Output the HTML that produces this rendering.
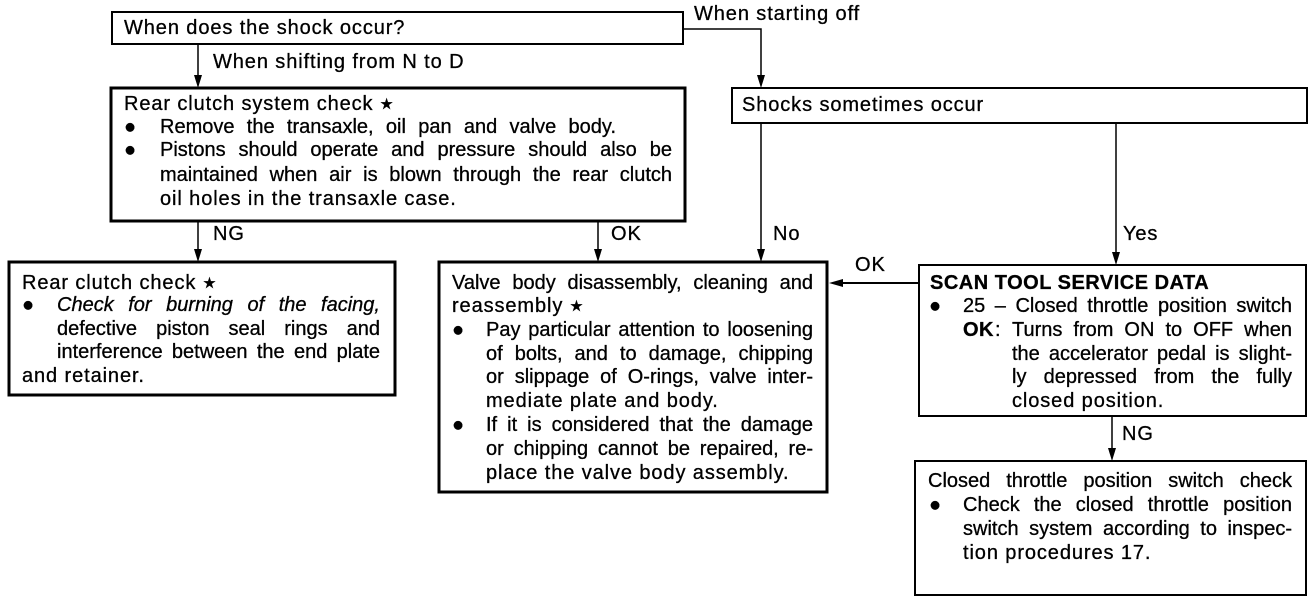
<!DOCTYPE html>
<html><head><meta charset="utf-8"><style>
body{margin:0;width:1312px;height:602px;background:#fff;position:relative;overflow:hidden;font-family:"Liberation Sans",Arial,sans-serif;color:#000}
.t{position:absolute;font-size:20px;line-height:24px;white-space:nowrap;letter-spacing:0.9px;-webkit-text-stroke:0.3px #000}
.j{text-align:justify;text-align-last:justify;letter-spacing:0}
.b{font-weight:bold;letter-spacing:0.5px}
.i{font-style:italic}
.s{font-size:15px;vertical-align:1px}
svg{position:absolute;left:0;top:0}
</style></head><body>
<svg width="1312" height="602" viewBox="0 0 1312 602">
<g fill="none" stroke="#000">
<rect x="112" y="12" width="571" height="32" stroke-width="2"/>
<rect x="111" y="88" width="574" height="133" stroke-width="3"/>
<rect x="9" y="262" width="386" height="133" stroke-width="3"/>
<rect x="439" y="262" width="388" height="230" stroke-width="3"/>
<rect x="732" y="88" width="575" height="35" stroke-width="2"/>
<rect x="919" y="265" width="387" height="151" stroke-width="2"/>
<rect x="915" y="461" width="391" height="134" stroke-width="2"/>
<g stroke-width="1.5">
<line x1="198" y1="44" x2="198" y2="80"/>
<polyline points="683,29 761,29 761,80"/>
<line x1="198" y1="221" x2="198" y2="254"/>
<line x1="598" y1="221" x2="598" y2="254"/>
<line x1="761" y1="123" x2="761" y2="254"/>
<line x1="1116" y1="123" x2="1116" y2="257"/>
<line x1="1112" y1="416" x2="1112" y2="453"/>
<line x1="918" y1="283" x2="840" y2="283" stroke-width="2"/>
</g></g>
<g fill="#000">
<path d="M194,75 L202,75 L198,88 Z"/>
<path d="M757,75 L765,75 L761,88 Z"/>
<path d="M194,249 L202,249 L198,262 Z"/>
<path d="M594,249 L602,249 L598,262 Z"/>
<path d="M757,249 L765,249 L761,262 Z"/>
<path d="M1112,252 L1120,252 L1116,265 Z"/>
<path d="M1108,448 L1116,448 L1112,461 Z"/>
<path d="M829,283 L843,279 L843,287 Z"/>
</g>
</svg>

<div class="t" style="left:124px;top:16px">When does the shock occur?</div>
<div class="t" style="left:694px;top:2px">When starting off</div>
<div class="t" style="left:213px;top:50px">When shifting from N to D</div>

<div class="t" style="left:124px;top:92px">Rear clutch system check <span class="s">★</span></div>
<div class="t" style="left:124px;top:115px">●</div>
<div class="t j" style="left:160px;top:115px;width:456px">Remove the transaxle, oil pan and valve body.</div>
<div class="t" style="left:124px;top:138px">●</div>
<div class="t j" style="left:160px;top:138px;width:512px">Pistons should operate and pressure should also be</div>
<div class="t j" style="left:160px;top:163px;width:512px">maintained when air is blown through the rear clutch</div>
<div class="t" style="left:160px;top:187px">oil holes in the transaxle case.</div>

<div class="t" style="left:213px;top:222px">NG</div>
<div class="t" style="left:611px;top:222px">OK</div>
<div class="t" style="left:773px;top:222px">No</div>
<div class="t" style="left:1123px;top:222px">Yes</div>
<div class="t" style="left:855px;top:253px">OK</div>
<div class="t" style="left:1122px;top:422px">NG</div>

<div class="t" style="left:742px;top:93px">Shocks sometimes occur</div>

<div class="t" style="left:22px;top:271px">Rear clutch check <span class="s">★</span></div>
<div class="t" style="left:22px;top:293px">●</div>
<div class="t j i" style="left:57px;top:293px;width:323px">Check for burning of the facing,</div>
<div class="t j" style="left:57px;top:317px;width:323px">defective piston seal rings and</div>
<div class="t j" style="left:57px;top:340px;width:323px">interference between the end plate</div>
<div class="t" style="left:22px;top:364px">and retainer.</div>

<div class="t j" style="left:452px;top:271px;width:361px">Valve body disassembly, cleaning and</div>
<div class="t" style="left:452px;top:294px">reassembly <span class="s">★</span></div>
<div class="t" style="left:452px;top:318px">●</div>
<div class="t j" style="left:486px;top:318px;width:327px">Pay particular attention to loosening</div>
<div class="t j" style="left:486px;top:342px;width:327px">of bolts, and to damage, chipping</div>
<div class="t j" style="left:486px;top:365px;width:327px">or slippage of O-rings, valve inter-</div>
<div class="t" style="left:486px;top:389px">mediate plate and body.</div>
<div class="t" style="left:452px;top:413px">●</div>
<div class="t j" style="left:486px;top:413px;width:327px">If it is considered that the damage</div>
<div class="t j" style="left:486px;top:437px;width:327px">or chipping cannot be repaired, re-</div>
<div class="t" style="left:486px;top:461px">place the valve body assembly.</div>

<div class="t b" style="left:930px;top:271px">SCAN TOOL SERVICE DATA</div>
<div class="t" style="left:929px;top:294px">●</div>
<div class="t j" style="left:963px;top:294px;width:329px">25 – Closed throttle position switch</div>
<div class="t b" style="left:963px;top:318px">OK</div><div class="t" style="left:995px;top:318px">:</div>
<div class="t j" style="left:1012px;top:318px;width:280px">Turns from ON to OFF when</div>
<div class="t j" style="left:1012px;top:342px;width:280px">the accelerator pedal is slight-</div>
<div class="t j" style="left:1012px;top:365px;width:280px">ly depressed from the fully</div>
<div class="t" style="left:1012px;top:389px">closed position.</div>

<div class="t j" style="left:928px;top:469px;width:364px">Closed throttle position switch check</div>
<div class="t" style="left:929px;top:493px">●</div>
<div class="t j" style="left:963px;top:493px;width:329px">Check the closed throttle position</div>
<div class="t j" style="left:963px;top:517px;width:329px">switch system according to inspec-</div>
<div class="t" style="left:963px;top:541px">tion procedures 17.</div>
</body></html>
